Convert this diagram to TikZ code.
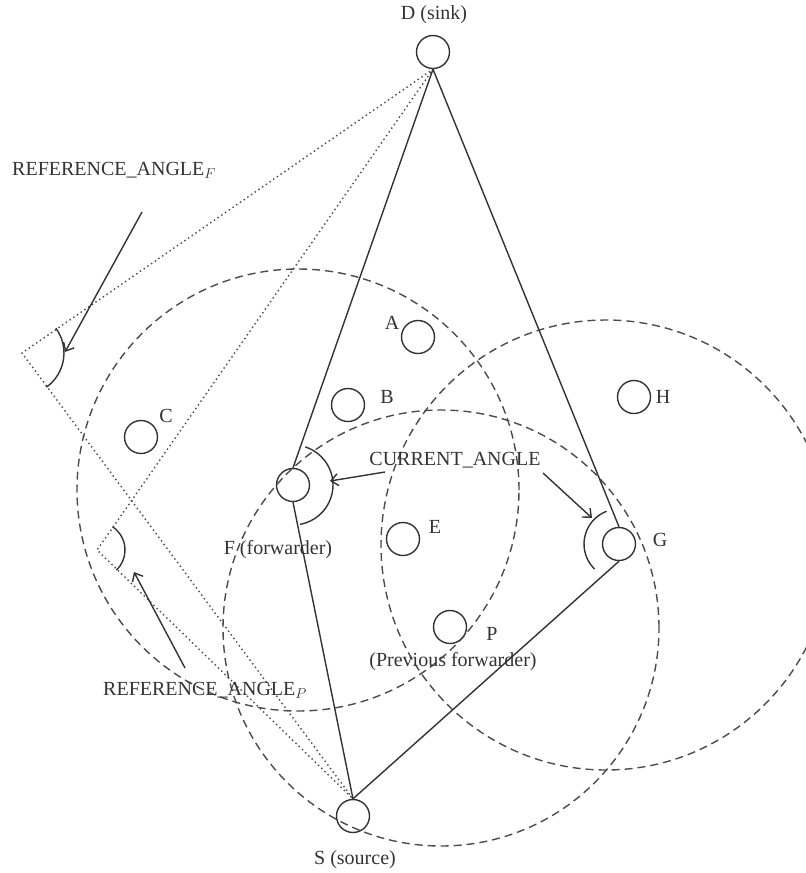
\documentclass[tikz,border=0pt]{standalone}
\usepackage{fontspec}
\setmainfont{Liberation Serif}
\usepackage{tikz}
\usetikzlibrary{calc,arrows.meta}
\colorlet{ink}{black!80}
\colorlet{rangeink}{black!70}

\begin{document}
\begin{tikzpicture}[x=1pt,y=1pt,
    sensor/.style={circle, draw=ink, line width=1.4pt, minimum size=33pt, inner sep=0pt},
    lbl/.style={font=\fontsize{20}{22}\selectfont, text=ink, inner sep=0pt},
    edgeline/.style={ink, line width=1.4pt},
    rangecircle/.style={rangeink, line width=1.4pt, dash pattern=on 8pt off 5pt},
    refline/.style={rangeink, line width=2pt, line cap=round, dash pattern=on 0pt off 4.5pt},
    pointer/.style={ink, line width=1.4pt, -{Straight Barb[length=7pt,width=12pt]}}]
        \clip (0,-873) rectangle (806,0);
        % Sensor nodes
        \node[sensor] (D) at (433,-52) {};
        \node[sensor] (S) at (353,-816) {};
        \node[sensor] (F) at (293,-485) {};
        \node[sensor] (G) at (619,-544) {};
        \node[sensor] (A) at (418,-337) {};
        \node[sensor] (B) at (348,-405) {};
        \node[sensor] (C) at (141,-437) {};
        \node[sensor] (E) at (403,-539) {};
        \node[sensor] (H) at (634,-397) {};
        \node[sensor] (P) at (450,-627) {};
        % Vertices of the two reference angles
        \coordinate (RF) at (22,-353);
        \coordinate (RP) at (97,-550);
        % Radio ranges
        \draw[rangecircle] (298,-490) circle (221);
        \draw[rangecircle] (441,-628) circle (218);
        \draw[rangecircle] (606,-545) circle (225);
        % Reference triangles (dotted)
        \draw[refline] (D.south) -- (RF) -- (S.north);
        \draw[refline] (D.south) -- (RP) -- (S.north);
        % Routes through F and G
        \draw[edgeline] (D.south) -- (F.north);
        \draw[edgeline] (F.south) -- (S.north);
        \draw[edgeline] (D.south) -- (G.north);
        \draw[edgeline] (G.south) -- (S.north);
        % Angle marks
        \draw[edgeline] let \p1=($(D)-(F)$), \p2=($(S)-(F)$),
            \n1={atan2(\y1,\x1)}, \n2={atan2(\y2,\x2)} in
            ($(F)+(\n1:40)$) arc[start angle=\n1, end angle=\n2, radius=40];
        \draw[edgeline] let \p1=($(D)-(G)$), \p2=($(S)-(G)$),
            \n1={atan2(\y1,\x1)}, \n2={atan2(\y2,\x2)+360} in
            ($(G)+(\n1:35)$) arc[start angle=\n1, end angle=\n2, radius=35];
        \draw[edgeline] let \p1=($(D)-(RF)$), \p2=($(S)-(RF)$),
            \n1={atan2(\y1,\x1)}, \n2={atan2(\y2,\x2)} in
            ($(RF)+(\n1:42)$) arc[start angle=\n1, end angle=\n2, radius=42];
        \draw[edgeline] let \p1=($(D)-(RP)$), \p2=($(S)-(RP)$),
            \n1={atan2(\y1,\x1)}, \n2={atan2(\y2,\x2)} in
            ($(RP)+(\n1:28)$) arc[start angle=\n1, end angle=\n2, radius=28];
        % Node labels
        \node[lbl] (Dlab) at (434,-15) {D (sink)};
        \node[lbl] (Slab) at (355,-860) {S (source)};
        \node[lbl] (Flab) at (278,-550) {F (forwarder)};
        \node[lbl] (Glab) at (660,-540) {G};
        \node[lbl] (Alab) at (392,-323) {A};
        \node[lbl] (Blab) at (387,-397) {B};
        \node[lbl] (Clab) at (166,-416) {C};
        \node[lbl] (Elab) at (435,-527) {E};
        \node[lbl] (Hlab) at (663,-397) {H};
        \node[lbl] (Plab) at (492,-634) {P};
        \node[lbl] (PFlab) at (453,-662) {(Previous forwarder)};
        % Angle labels and pointers
        \node[lbl] (cur) at (455,-460) {CURRENT\_ANGLE};
        \node[lbl, anchor=west] (refF) at (12,-170) {REFERENCE\_ANGLE$_F$};
        \node[lbl, anchor=west] (refP) at (103,-690) {REFERENCE\_ANGLE$_P$};
        \coordinate (curL) at (385,-472);
        \coordinate (curLtip) at (330,-481);
        \coordinate (curR) at (543,-473);
        \coordinate (curRtip) at (592,-518);
        \coordinate (refFtail) at (142,-212);
        \coordinate (refFtip) at (65,-352);
        \coordinate (refPtail) at (185,-668);
        \coordinate (refPtip) at (134,-572);
        \draw[pointer] (curL) -- (curLtip);
        \draw[pointer] (curR) -- (curRtip);
        \draw[pointer] (refFtail) -- (refFtip);
        \draw[pointer] (refPtail) -- (refPtip);
\end{tikzpicture}
\end{document}
